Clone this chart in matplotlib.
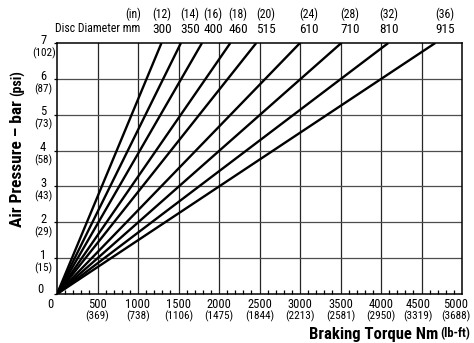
import matplotlib

matplotlib.use("Agg")

from matplotlib import pyplot as plt
from matplotlib.ticker import MultipleLocator

# disc sizes and the torque each reaches at 7 bar
DISC_MM = [300, 350, 400, 460, 515, 610, 710, 810, 915]
DISC_IN = [12, 14, 16, 18, 20, 24, 28, 32, 36]
TORQUE_AT_MAX = [1290, 1530, 1790, 2140, 2460, 3000, 3510, 4090, 4670]
MAX_BAR = 7

# axis scales
BAR_TICKS = [0, 1, 2, 3, 4, 5, 6, 7]
PSI_LABELS = ["", "15", "29", "43", "58", "73", "87", "102"]
NM_TICKS = [0, 500, 1000, 1500, 2000, 2500, 3000, 3500, 4000, 4500, 5000]
LBFT_LABELS = ["", "369", "738", "1106", "1475", "1844", "2213", "2581", "2950", "3319", "3688"]

# where the diameter captions sit along the torque axis
LABEL_X = [1296, 1642, 1926, 2235, 2580, 3111, 3617, 4099, 4790]

W, H = 474, 343
plt.rcParams["font.family"] = ["Liberation Sans Narrow", "Roboto Condensed", "Archivo Narrow",
                               "Liberation Sans", "DejaVu Sans"]

fig = plt.figure(figsize=(W / 100, H / 100), dpi=100)
ax = fig.add_axes([57 / W, 1 - 294 / H, 405 / W, 251 / H])

ax.set_xlim(0, 5000)
ax.set_ylim(0, MAX_BAR)

for x in NM_TICKS[1:-1]:
    ax.axvline(x, color="0.15", lw=0.9, zorder=1)
for y in BAR_TICKS[1:-1]:
    ax.axhline(y, color="0.3", lw=0.9, zorder=1)

for t in TORQUE_AT_MAX:
    ax.plot([0, t], [0, MAX_BAR], color="black", lw=1.7, solid_capstyle="butt", zorder=3)

for s in ax.spines.values():
    s.set_linewidth(1.1)

ax.xaxis.set_minor_locator(MultipleLocator(100))
ax.set_xticks(NM_TICKS)
ax.set_yticks(BAR_TICKS)
ax.set_xticklabels([])
ax.set_yticklabels([])
ax.tick_params(axis="x", which="both", direction="in", length=3, width=0.9)
ax.tick_params(axis="x", which="major", length=0)
ax.tick_params(axis="y", direction="out", length=2, width=0.9)

# two-line tick labels: metric value with imperial value below
for y, psi in zip(BAR_TICKS, PSI_LABELS):
    if y == 0:
        ax.annotate("0", (0, y), xytext=(-12, 3), textcoords="offset points",
                    xycoords=("axes fraction", "data"), ha="center", va="center", fontsize=9)
        continue
    ax.annotate(str(y), (0, y), xytext=(-10, 2), textcoords="offset points",
                xycoords=("axes fraction", "data"), ha="center", va="center", fontsize=9)
    ax.annotate(f"({psi})", (0, y), xytext=(-9.5, -7.2), textcoords="offset points",
                xycoords=("axes fraction", "data"), ha="center", va="center", fontsize=8)

for x, lb in zip(NM_TICKS, LBFT_LABELS):
    if x == 0:
        dx = -5
    elif x == NM_TICKS[-1]:
        dx = -4.5
    elif x == NM_TICKS[-2]:
        dx = -2.5
    else:
        dx = 0
    ax.annotate(str(x), (x, 0), xytext=(dx, -7.2), textcoords="offset points",
                xycoords=("data", "axes fraction"), ha="center", va="center", fontsize=9)
    if lb:
        ax.annotate(f"({lb})", (x, 0), xytext=(dx, -16.3), textcoords="offset points",
                    xycoords=("data", "axes fraction"), ha="center", va="center", fontsize=8)

# disc diameter captions above the plot
for x, mm, inch in zip(LABEL_X, DISC_MM, DISC_IN):
    ax.annotate(f"({inch})", (x, 1), xytext=(0, 21), textcoords="offset points",
                xycoords=("data", "axes fraction"), ha="center", va="center", fontsize=8.5)
    ax.annotate(str(mm), (x, 1), xytext=(0, 10), textcoords="offset points",
                xycoords=("data", "axes fraction"), ha="center", va="center", fontsize=9.5)

fig.text(133 / W, 1 - 14 / H, "(in)", ha="center", va="center", fontsize=8.5)
fig.text(140 / W, 1 - 29 / H, "Disc Diameter mm", ha="right", va="center", fontsize=8.5)

# axis titles: bold main text followed by a smaller bold unit
renderer = fig.canvas.get_renderer()

unit_x = fig.text(470 / W, 1 - 334 / H, "(lb-ft)", ha="right", va="center",
                  fontsize=9, fontweight="bold")
ux0 = unit_x.get_window_extent(renderer).x0
fig.text((ux0 - 2) / W, 1 - 334 / H, "Braking Torque Nm", ha="right", va="center",
         fontsize=12, fontweight="bold")

unit_y = fig.text(18 / W, 1 - 70 / H, "(psi)", ha="center", va="top",
                  rotation=90, fontsize=10, fontweight="bold")
uy0 = unit_y.get_window_extent(renderer).y0
fig.text(18 / W, (uy0 - 4) / H, "Air Pressure \u2013 bar", ha="center", va="top",
         rotation=90, fontsize=12.5, fontweight="bold")

fig.savefig("out.png", dpi=100)
